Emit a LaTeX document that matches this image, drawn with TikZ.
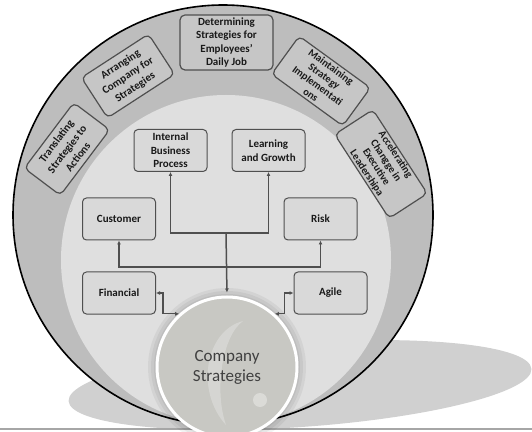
\documentclass[tikz,border=0pt]{standalone}
\usepackage{fontspec}
\setmainfont{Carlito}
\usetikzlibrary{arrows.meta}
\definecolor{ringgray}{HTML}{BDBDBD}
\definecolor{innergray}{HTML}{DFDFDF}
\definecolor{boxfill}{HTML}{D9D9D9}
\definecolor{ringfill}{HTML}{C6C6C6}
\definecolor{edgegray}{HTML}{4F4F4F}
\definecolor{stratfill}{HTML}{C8C8C3}
\definecolor{shadowgray}{HTML}{D0D0D0}
\tikzset{
  ringbox/.style={draw=edgegray, fill=ringfill, line width=1.2pt, rounded corners=5pt,
    align=center, inner sep=1pt, text=black!90, font=\fontsize{11}{13.5}\selectfont\bfseries},
  perspbox/.style={draw=edgegray, fill=boxfill, line width=1pt, rounded corners=4pt,
    align=center, minimum width=73pt, minimum height=42pt, inner sep=1pt,
    text=black!90, font=\fontsize{11}{13.5}\selectfont\bfseries},
  conn/.style={draw=edgegray, line width=1.1pt, >={Latex[length=4pt,width=4pt]}},
}
\begin{document}
\begin{tikzpicture}[x=1pt,y=1pt]
\useasboundingbox (0,0) rectangle (532,431);
% floor shadow and base line
\fill[shadowgray, rotate around={4:(300,46)}] (300,46) ellipse [x radius=232, y radius=42];
\draw[black!35, line width=1.2pt] (0,2) -- (532,2);
% rings
\draw[fill=ringgray, line width=1.6pt] (223,216) circle (210);
\fill[innergray] (226,171) circle (165);
% outer steps
\node[ringbox, minimum width=93pt, minimum height=55pt] (daily) at (226.5,388.5) {Determining\\Strategies for\\Employees’\\Daily Job};
\node[ringbox, minimum width=80pt, minimum height=48pt, rotate=33] (arrange) at (128,355) {Arranging\\Company for\\Strategies};
\node[ringbox, minimum width=82pt, minimum height=45pt, rotate=53] (translate) at (67,282) {Translating\\Strategies to\\Actions};
\node[ringbox, minimum width=88pt, minimum height=47pt, rotate=-36, font=\fontsize{10.5}{11.5}\selectfont\bfseries] (maintain) at (321,350) {Maintaining\\Strategy\\Implementati\\ons};
\node[ringbox, minimum width=100pt, minimum height=45pt, rotate=-57, font=\fontsize{10.5}{11.5}\selectfont\bfseries] (accel) at (381,267) {Accelerating\\Changge in\\Executive\\Leadershipa};
% perspectives
\node[perspbox] (ibp) at (170.5,280.5) {Internal\\Business\\Process};
\node[perspbox] (lg) at (268.5,280.5) {Learning\\and Growth};
\node[perspbox] (cust) at (119,212) {Customer};
\node[perspbox] (risk) at (320.5,212) {Risk};
\node[perspbox] (fin) at (119,138) {Financial};
\node[perspbox] (agile) at (330.5,138) {Agile};
% centre
\foreach \r in {79,76,73} {
  \fill[black, opacity=0.05] (227,64) circle (\r);
}
\node[circle, draw=white, line width=3pt, fill=stratfill, minimum size=140pt, inner sep=0pt] (strat) at (227,64) {};
\fill[white, opacity=0.25] (243,110) .. controls (205,100) and (195,40) .. (226,6) .. controls (214,40) and (222,95) .. (243,110);
\fill[white, opacity=0.35] (260,31) circle (7);
\node[align=center, text=black!75, font=\fontsize{17}{20}\selectfont] (strattext) at (strat) {Company\\Strategies};
% links
\coordinate (upper) at (226,198);
\coordinate (lower) at (226,164);
\draw[conn,<->] (ibp.south) |- (upper) -| (lg.south);
\draw[conn,<->] (cust.south) |- (lower) -| (risk.south);
\draw[conn,->, line width=1.5pt, shorten >=3pt] (upper) -- (strat.north);
\draw[conn,<->] (fin.east) -- ++(7,0) |- (strat.132);
\draw[conn,<->] (agile.west) -- ++(-9,0) |- (strat.48);
\end{tikzpicture}
\end{document}
